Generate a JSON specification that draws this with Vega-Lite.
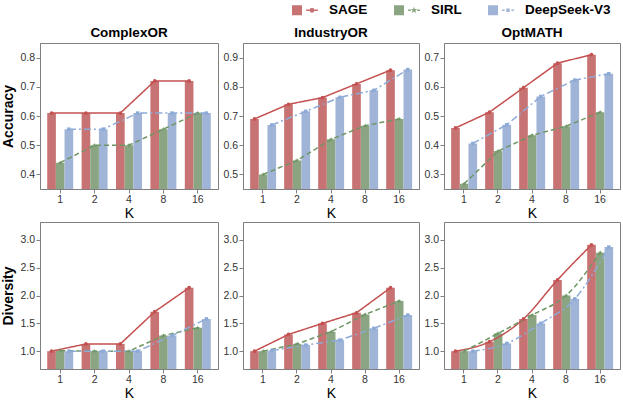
{
  "$schema": "https://vega.github.io/schema/vega-lite/v6.json",
  "padding": {"left": 1, "right": 0, "top": -3, "bottom": 3},
  "config": {
    "font": "Liberation Sans",
    "view": {"stroke": "#808080", "strokeWidth": 1},
    "axis": {"domainColor": "#808080", "tickColor": "#808080", "tickSize": 4, "labelFontSize": 10.5, "labelColor": "#333333", "titleFontSize": 14, "titleColor": "#000000", "grid": false, "labelPadding": 1.5},
    "axisX": {"labelAngle": 0, "titleFontWeight": "normal", "titlePadding": 1},
    "axisY": {"titleFontWeight": "bold", "titlePadding": 4},
    "title": {"fontSize": 13.5, "fontWeight": "bold", "color": "#000000", "offset": 4},
    "point": {"filled": true, "opacity": 1, "size": 14}
  },
  "datasets": {
    "d": [
      {"bench": "ComplexOR", "metric": "Accuracy", "K": 1, "model": "SAGE", "value": 0.61},
      {"bench": "ComplexOR", "metric": "Accuracy", "K": 2, "model": "SAGE", "value": 0.61},
      {"bench": "ComplexOR", "metric": "Accuracy", "K": 4, "model": "SAGE", "value": 0.61},
      {"bench": "ComplexOR", "metric": "Accuracy", "K": 8, "model": "SAGE", "value": 0.72},
      {"bench": "ComplexOR", "metric": "Accuracy", "K": 16, "model": "SAGE", "value": 0.72},
      {"bench": "ComplexOR", "metric": "Accuracy", "K": 1, "model": "SIRL", "value": 0.44},
      {"bench": "ComplexOR", "metric": "Accuracy", "K": 2, "model": "SIRL", "value": 0.50},
      {"bench": "ComplexOR", "metric": "Accuracy", "K": 4, "model": "SIRL", "value": 0.50},
      {"bench": "ComplexOR", "metric": "Accuracy", "K": 8, "model": "SIRL", "value": 0.555},
      {"bench": "ComplexOR", "metric": "Accuracy", "K": 16, "model": "SIRL", "value": 0.61},
      {"bench": "ComplexOR", "metric": "Accuracy", "K": 1, "model": "DeepSeek-V3", "value": 0.555},
      {"bench": "ComplexOR", "metric": "Accuracy", "K": 2, "model": "DeepSeek-V3", "value": 0.555},
      {"bench": "ComplexOR", "metric": "Accuracy", "K": 4, "model": "DeepSeek-V3", "value": 0.61},
      {"bench": "ComplexOR", "metric": "Accuracy", "K": 8, "model": "DeepSeek-V3", "value": 0.61},
      {"bench": "ComplexOR", "metric": "Accuracy", "K": 16, "model": "DeepSeek-V3", "value": 0.61},
      {"bench": "IndustryOR", "metric": "Accuracy", "K": 1, "model": "SAGE", "value": 0.69},
      {"bench": "IndustryOR", "metric": "Accuracy", "K": 2, "model": "SAGE", "value": 0.74},
      {"bench": "IndustryOR", "metric": "Accuracy", "K": 4, "model": "SAGE", "value": 0.763},
      {"bench": "IndustryOR", "metric": "Accuracy", "K": 8, "model": "SAGE", "value": 0.81},
      {"bench": "IndustryOR", "metric": "Accuracy", "K": 16, "model": "SAGE", "value": 0.857},
      {"bench": "IndustryOR", "metric": "Accuracy", "K": 1, "model": "SIRL", "value": 0.50},
      {"bench": "IndustryOR", "metric": "Accuracy", "K": 2, "model": "SIRL", "value": 0.548},
      {"bench": "IndustryOR", "metric": "Accuracy", "K": 4, "model": "SIRL", "value": 0.62},
      {"bench": "IndustryOR", "metric": "Accuracy", "K": 8, "model": "SIRL", "value": 0.667},
      {"bench": "IndustryOR", "metric": "Accuracy", "K": 16, "model": "SIRL", "value": 0.69},
      {"bench": "IndustryOR", "metric": "Accuracy", "K": 1, "model": "DeepSeek-V3", "value": 0.669},
      {"bench": "IndustryOR", "metric": "Accuracy", "K": 2, "model": "DeepSeek-V3", "value": 0.716},
      {"bench": "IndustryOR", "metric": "Accuracy", "K": 4, "model": "DeepSeek-V3", "value": 0.764},
      {"bench": "IndustryOR", "metric": "Accuracy", "K": 8, "model": "DeepSeek-V3", "value": 0.788},
      {"bench": "IndustryOR", "metric": "Accuracy", "K": 16, "model": "DeepSeek-V3", "value": 0.859},
      {"bench": "OptMATH", "metric": "Accuracy", "K": 1, "model": "SAGE", "value": 0.459},
      {"bench": "OptMATH", "metric": "Accuracy", "K": 2, "model": "SAGE", "value": 0.513},
      {"bench": "OptMATH", "metric": "Accuracy", "K": 4, "model": "SAGE", "value": 0.597},
      {"bench": "OptMATH", "metric": "Accuracy", "K": 8, "model": "SAGE", "value": 0.681},
      {"bench": "OptMATH", "metric": "Accuracy", "K": 16, "model": "SAGE", "value": 0.71},
      {"bench": "OptMATH", "metric": "Accuracy", "K": 1, "model": "SIRL", "value": 0.268},
      {"bench": "OptMATH", "metric": "Accuracy", "K": 2, "model": "SIRL", "value": 0.38},
      {"bench": "OptMATH", "metric": "Accuracy", "K": 4, "model": "SIRL", "value": 0.434},
      {"bench": "OptMATH", "metric": "Accuracy", "K": 8, "model": "SIRL", "value": 0.465},
      {"bench": "OptMATH", "metric": "Accuracy", "K": 16, "model": "SIRL", "value": 0.513},
      {"bench": "OptMATH", "metric": "Accuracy", "K": 1, "model": "DeepSeek-V3", "value": 0.406},
      {"bench": "OptMATH", "metric": "Accuracy", "K": 2, "model": "DeepSeek-V3", "value": 0.47},
      {"bench": "OptMATH", "metric": "Accuracy", "K": 4, "model": "DeepSeek-V3", "value": 0.567},
      {"bench": "OptMATH", "metric": "Accuracy", "K": 8, "model": "DeepSeek-V3", "value": 0.623},
      {"bench": "OptMATH", "metric": "Accuracy", "K": 16, "model": "DeepSeek-V3", "value": 0.645},
      {"bench": "ComplexOR", "metric": "Diversity", "K": 1, "model": "SAGE", "value": 1.0},
      {"bench": "ComplexOR", "metric": "Diversity", "K": 2, "model": "SAGE", "value": 1.13},
      {"bench": "ComplexOR", "metric": "Diversity", "K": 4, "model": "SAGE", "value": 1.13},
      {"bench": "ComplexOR", "metric": "Diversity", "K": 8, "model": "SAGE", "value": 1.71},
      {"bench": "ComplexOR", "metric": "Diversity", "K": 16, "model": "SAGE", "value": 2.14},
      {"bench": "ComplexOR", "metric": "Diversity", "K": 1, "model": "SIRL", "value": 1.01},
      {"bench": "ComplexOR", "metric": "Diversity", "K": 2, "model": "SIRL", "value": 1.0},
      {"bench": "ComplexOR", "metric": "Diversity", "K": 4, "model": "SIRL", "value": 1.0},
      {"bench": "ComplexOR", "metric": "Diversity", "K": 8, "model": "SIRL", "value": 1.28},
      {"bench": "ComplexOR", "metric": "Diversity", "K": 16, "model": "SIRL", "value": 1.42},
      {"bench": "ComplexOR", "metric": "Diversity", "K": 1, "model": "DeepSeek-V3", "value": 1.0},
      {"bench": "ComplexOR", "metric": "Diversity", "K": 2, "model": "DeepSeek-V3", "value": 1.0},
      {"bench": "ComplexOR", "metric": "Diversity", "K": 4, "model": "DeepSeek-V3", "value": 1.0},
      {"bench": "ComplexOR", "metric": "Diversity", "K": 8, "model": "DeepSeek-V3", "value": 1.28},
      {"bench": "ComplexOR", "metric": "Diversity", "K": 16, "model": "DeepSeek-V3", "value": 1.58},
      {"bench": "IndustryOR", "metric": "Diversity", "K": 1, "model": "SAGE", "value": 1.0},
      {"bench": "IndustryOR", "metric": "Diversity", "K": 2, "model": "SAGE", "value": 1.30},
      {"bench": "IndustryOR", "metric": "Diversity", "K": 4, "model": "SAGE", "value": 1.50},
      {"bench": "IndustryOR", "metric": "Diversity", "K": 8, "model": "SAGE", "value": 1.69},
      {"bench": "IndustryOR", "metric": "Diversity", "K": 16, "model": "SAGE", "value": 2.14},
      {"bench": "IndustryOR", "metric": "Diversity", "K": 1, "model": "SIRL", "value": 1.0},
      {"bench": "IndustryOR", "metric": "Diversity", "K": 2, "model": "SIRL", "value": 1.13},
      {"bench": "IndustryOR", "metric": "Diversity", "K": 4, "model": "SIRL", "value": 1.35},
      {"bench": "IndustryOR", "metric": "Diversity", "K": 8, "model": "SIRL", "value": 1.66},
      {"bench": "IndustryOR", "metric": "Diversity", "K": 16, "model": "SIRL", "value": 1.90},
      {"bench": "IndustryOR", "metric": "Diversity", "K": 1, "model": "DeepSeek-V3", "value": 1.01},
      {"bench": "IndustryOR", "metric": "Diversity", "K": 2, "model": "DeepSeek-V3", "value": 1.11},
      {"bench": "IndustryOR", "metric": "Diversity", "K": 4, "model": "DeepSeek-V3", "value": 1.20},
      {"bench": "IndustryOR", "metric": "Diversity", "K": 8, "model": "DeepSeek-V3", "value": 1.41},
      {"bench": "IndustryOR", "metric": "Diversity", "K": 16, "model": "DeepSeek-V3", "value": 1.65},
      {"bench": "OptMATH", "metric": "Diversity", "K": 1, "model": "SAGE", "value": 1.0},
      {"bench": "OptMATH", "metric": "Diversity", "K": 2, "model": "SAGE", "value": 1.17},
      {"bench": "OptMATH", "metric": "Diversity", "K": 4, "model": "SAGE", "value": 1.58},
      {"bench": "OptMATH", "metric": "Diversity", "K": 8, "model": "SAGE", "value": 2.28},
      {"bench": "OptMATH", "metric": "Diversity", "K": 16, "model": "SAGE", "value": 2.91},
      {"bench": "OptMATH", "metric": "Diversity", "K": 1, "model": "SIRL", "value": 1.0},
      {"bench": "OptMATH", "metric": "Diversity", "K": 2, "model": "SIRL", "value": 1.32},
      {"bench": "OptMATH", "metric": "Diversity", "K": 4, "model": "SIRL", "value": 1.65},
      {"bench": "OptMATH", "metric": "Diversity", "K": 8, "model": "SIRL", "value": 2.0},
      {"bench": "OptMATH", "metric": "Diversity", "K": 16, "model": "SIRL", "value": 2.77},
      {"bench": "OptMATH", "metric": "Diversity", "K": 1, "model": "DeepSeek-V3", "value": 1.0},
      {"bench": "OptMATH", "metric": "Diversity", "K": 2, "model": "DeepSeek-V3", "value": 1.14},
      {"bench": "OptMATH", "metric": "Diversity", "K": 4, "model": "DeepSeek-V3", "value": 1.50},
      {"bench": "OptMATH", "metric": "Diversity", "K": 8, "model": "DeepSeek-V3", "value": 1.94},
      {"bench": "OptMATH", "metric": "Diversity", "K": 16, "model": "DeepSeek-V3", "value": 2.87}
    ]
  },
  "spacing": 0,
  "vconcat": [
    {
      "bounds": "flush",
      "spacing": 25,
      "hconcat": [
        {
          "width": 178, "height": 146, "title": "ComplexOR",
          "data": {"name": "d"},
          "transform": [{"filter": "datum.bench=='ComplexOR' && datum.metric=='Accuracy'"}],
          "encoding": {
            "x": {"field": "K", "type": "ordinal", "scale": {"paddingInner": 0.245, "paddingOuter": 0.21}, "axis": {"title": "K"}},
            "xOffset": {"field": "model", "type": "nominal", "sort": ["SAGE", "SIRL", "DeepSeek-V3"], "scale": {"paddingInner": 0}},
            "y": {"field": "value", "type": "quantitative", "scale": {"domain": [0.35, 0.85], "zero": false, "nice": false}, "axis": {"title": "Accuracy", "values": [0.4, 0.5, 0.6, 0.7, 0.8], "format": ".1f"}}
          },
          "layer": [
            {"mark": {"type": "bar", "clip": true}, "encoding": {"color": {"field": "model", "type": "nominal", "sort": ["SAGE", "SIRL", "DeepSeek-V3"], "scale": {"domain": ["SAGE", "SIRL", "DeepSeek-V3"], "range": ["#c87373", "#8ba582", "#a0b4d7"]},
              "legend": {"orient": "none", "legendX": 252, "legendY": -46, "direction": "horizontal", "title": null, "symbolSize": 676, "symbolStrokeWidth": 0, "symbolOpacity": 1, "labelFontSize": 13.5, "labelFontWeight": "bold", "labelColor": "#000000", "labelOffset": 11, "columnPadding": 26,
                "encode": {"symbols": {"update": {"shape": {"signal": "datum.value==='SAGE' ? 'M-1,-0.38H-0.23V0.38H-1Z M0.08,-0.06H1V0.06H0.08Z M0.35,0A0.19,0.19 0 1,1 0.73,0A0.19,0.19 0 1,1 0.35,0Z' : datum.value==='SIRL' ? 'M-1,-0.38H-0.23V0.38H-1Z M0.08,-0.06H0.3V0.06H0.08Z M0.78,-0.06H1V0.06H0.78Z M0.54,-0.26L0.605,-0.089L0.787,-0.08L0.645,0.034L0.693,0.21L0.54,0.11L0.387,0.21L0.435,0.034L0.293,-0.08L0.475,-0.089Z' : 'M-1,-0.38H-0.23V0.38H-1Z M0.08,-0.06H0.28V0.06H0.08Z M0.41,-0.13H0.67V0.13H0.41Z M0.8,-0.06H1V0.06H0.8Z'"}}}}}}}},
            {"mark": {"type": "line", "strokeWidth": 1.5}, "encoding": {"stroke": {"field": "model", "type": "nominal", "scale": {"domain": ["SAGE", "SIRL", "DeepSeek-V3"], "range": ["#c45050", "#6e9664", "#8caad7"]}, "legend": null}, "strokeDash": {"field": "model", "type": "nominal", "scale": {"domain": ["SAGE", "SIRL", "DeepSeek-V3"], "range": [[1, 0], [5, 3], [7, 3, 2, 3]]}, "legend": null}}},
            {"transform": [{"filter": "datum.model=='SAGE'"}], "mark": {"type": "point", "shape": "circle", "color": "#c45050"}},
            {"transform": [{"filter": "datum.model=='SIRL'"}], "mark": {"type": "point", "size": 22, "shape": "M0,-1L0.235,-0.324L0.951,-0.309L0.38,0.124L0.588,0.809L0,0.4L-0.588,0.809L-0.38,0.124L-0.951,-0.309L-0.235,-0.324Z", "color": "#6e9664"}},
            {"transform": [{"filter": "datum.model=='DeepSeek-V3'"}], "mark": {"type": "point", "size": 12, "shape": "square", "color": "#8caad7"}}
          ]
        },
        {
          "width": 176, "height": 146, "title": "IndustryOR",
          "data": {"name": "d"},
          "transform": [{"filter": "datum.bench=='IndustryOR' && datum.metric=='Accuracy'"}],
          "encoding": {
            "x": {"field": "K", "type": "ordinal", "scale": {"paddingInner": 0.245, "paddingOuter": 0.21}, "axis": {"title": "K"}},
            "xOffset": {"field": "model", "type": "nominal", "sort": ["SAGE", "SIRL", "DeepSeek-V3"], "scale": {"paddingInner": 0}},
            "y": {"field": "value", "type": "quantitative", "scale": {"domain": [0.45, 0.95], "zero": false, "nice": false}, "axis": {"title": null, "values": [0.5, 0.6, 0.7, 0.8, 0.9], "format": ".1f"}}
          },
          "layer": [
            {"mark": {"type": "bar", "clip": true}, "encoding": {"color": {"field": "model", "type": "nominal", "sort": ["SAGE", "SIRL", "DeepSeek-V3"]}}},
            {"mark": {"type": "line", "strokeWidth": 1.5}, "encoding": {"stroke": {"field": "model", "type": "nominal", "legend": null}, "strokeDash": {"field": "model", "type": "nominal", "legend": null}}},
            {"transform": [{"filter": "datum.model=='SAGE'"}], "mark": {"type": "point", "shape": "circle", "color": "#c45050"}},
            {"transform": [{"filter": "datum.model=='SIRL'"}], "mark": {"type": "point", "size": 22, "shape": "M0,-1L0.235,-0.324L0.951,-0.309L0.38,0.124L0.588,0.809L0,0.4L-0.588,0.809L-0.38,0.124L-0.951,-0.309L-0.235,-0.324Z", "color": "#6e9664"}},
            {"transform": [{"filter": "datum.model=='DeepSeek-V3'"}], "mark": {"type": "point", "size": 12, "shape": "square", "color": "#8caad7"}}
          ]
        },
        {
          "width": 176, "height": 146, "title": "OptMATH",
          "data": {"name": "d"},
          "transform": [{"filter": "datum.bench=='OptMATH' && datum.metric=='Accuracy'"}],
          "encoding": {
            "x": {"field": "K", "type": "ordinal", "scale": {"paddingInner": 0.245, "paddingOuter": 0.21}, "axis": {"title": "K"}},
            "xOffset": {"field": "model", "type": "nominal", "sort": ["SAGE", "SIRL", "DeepSeek-V3"], "scale": {"paddingInner": 0}},
            "y": {"field": "value", "type": "quantitative", "scale": {"domain": [0.25, 0.75], "zero": false, "nice": false}, "axis": {"title": null, "values": [0.3, 0.4, 0.5, 0.6, 0.7], "format": ".1f"}}
          },
          "layer": [
            {"mark": {"type": "bar", "clip": true}, "encoding": {"color": {"field": "model", "type": "nominal", "sort": ["SAGE", "SIRL", "DeepSeek-V3"]}}},
            {"mark": {"type": "line", "strokeWidth": 1.5}, "encoding": {"stroke": {"field": "model", "type": "nominal", "legend": null}, "strokeDash": {"field": "model", "type": "nominal", "legend": null}}},
            {"transform": [{"filter": "datum.model=='SAGE'"}], "mark": {"type": "point", "shape": "circle", "color": "#c45050"}},
            {"transform": [{"filter": "datum.model=='SIRL'"}], "mark": {"type": "point", "size": 22, "shape": "M0,-1L0.235,-0.324L0.951,-0.309L0.38,0.124L0.588,0.809L0,0.4L-0.588,0.809L-0.38,0.124L-0.951,-0.309L-0.235,-0.324Z", "color": "#6e9664"}},
            {"transform": [{"filter": "datum.model=='DeepSeek-V3'"}], "mark": {"type": "point", "size": 12, "shape": "square", "color": "#8caad7"}}
          ]
        }
      ]
    },
    {
      "bounds": "flush",
      "spacing": 25,
      "hconcat": [
        {
          "width": 178, "height": 147,
          "data": {"name": "d"},
          "transform": [{"filter": "datum.bench=='ComplexOR' && datum.metric=='Diversity'"}],
          "encoding": {
            "x": {"field": "K", "type": "ordinal", "scale": {"paddingInner": 0.245, "paddingOuter": 0.21}, "axis": {"title": "K"}},
            "xOffset": {"field": "model", "type": "nominal", "sort": ["SAGE", "SIRL", "DeepSeek-V3"], "scale": {"paddingInner": 0}},
            "y": {"field": "value", "type": "quantitative", "scale": {"domain": [0.68, 3.32], "zero": false, "nice": false}, "axis": {"title": "Diversity", "values": [1, 1.5, 2, 2.5, 3], "format": ".1f"}}
          },
          "layer": [
            {"mark": {"type": "bar", "clip": true}, "encoding": {"color": {"field": "model", "type": "nominal", "sort": ["SAGE", "SIRL", "DeepSeek-V3"]}}},
            {"mark": {"type": "line", "strokeWidth": 1.5}, "encoding": {"stroke": {"field": "model", "type": "nominal", "legend": null}, "strokeDash": {"field": "model", "type": "nominal", "legend": null}}},
            {"transform": [{"filter": "datum.model=='SAGE'"}], "mark": {"type": "point", "shape": "circle", "color": "#c45050"}},
            {"transform": [{"filter": "datum.model=='SIRL'"}], "mark": {"type": "point", "size": 22, "shape": "M0,-1L0.235,-0.324L0.951,-0.309L0.38,0.124L0.588,0.809L0,0.4L-0.588,0.809L-0.38,0.124L-0.951,-0.309L-0.235,-0.324Z", "color": "#6e9664"}},
            {"transform": [{"filter": "datum.model=='DeepSeek-V3'"}], "mark": {"type": "point", "size": 12, "shape": "square", "color": "#8caad7"}}
          ]
        },
        {
          "width": 176, "height": 147,
          "data": {"name": "d"},
          "transform": [{"filter": "datum.bench=='IndustryOR' && datum.metric=='Diversity'"}],
          "encoding": {
            "x": {"field": "K", "type": "ordinal", "scale": {"paddingInner": 0.245, "paddingOuter": 0.21}, "axis": {"title": "K"}},
            "xOffset": {"field": "model", "type": "nominal", "sort": ["SAGE", "SIRL", "DeepSeek-V3"], "scale": {"paddingInner": 0}},
            "y": {"field": "value", "type": "quantitative", "scale": {"domain": [0.68, 3.32], "zero": false, "nice": false}, "axis": {"title": null, "values": [1, 1.5, 2, 2.5, 3], "format": ".1f"}}
          },
          "layer": [
            {"mark": {"type": "bar", "clip": true}, "encoding": {"color": {"field": "model", "type": "nominal", "sort": ["SAGE", "SIRL", "DeepSeek-V3"]}}},
            {"mark": {"type": "line", "strokeWidth": 1.5}, "encoding": {"stroke": {"field": "model", "type": "nominal", "legend": null}, "strokeDash": {"field": "model", "type": "nominal", "legend": null}}},
            {"transform": [{"filter": "datum.model=='SAGE'"}], "mark": {"type": "point", "shape": "circle", "color": "#c45050"}},
            {"transform": [{"filter": "datum.model=='SIRL'"}], "mark": {"type": "point", "size": 22, "shape": "M0,-1L0.235,-0.324L0.951,-0.309L0.38,0.124L0.588,0.809L0,0.4L-0.588,0.809L-0.38,0.124L-0.951,-0.309L-0.235,-0.324Z", "color": "#6e9664"}},
            {"transform": [{"filter": "datum.model=='DeepSeek-V3'"}], "mark": {"type": "point", "size": 12, "shape": "square", "color": "#8caad7"}}
          ]
        },
        {
          "width": 176, "height": 147,
          "data": {"name": "d"},
          "transform": [{"filter": "datum.bench=='OptMATH' && datum.metric=='Diversity'"}],
          "encoding": {
            "x": {"field": "K", "type": "ordinal", "scale": {"paddingInner": 0.245, "paddingOuter": 0.21}, "axis": {"title": "K"}},
            "xOffset": {"field": "model", "type": "nominal", "sort": ["SAGE", "SIRL", "DeepSeek-V3"], "scale": {"paddingInner": 0}},
            "y": {"field": "value", "type": "quantitative", "scale": {"domain": [0.68, 3.32], "zero": false, "nice": false}, "axis": {"title": null, "values": [1, 1.5, 2, 2.5, 3], "format": ".1f"}}
          },
          "layer": [
            {"mark": {"type": "bar", "clip": true}, "encoding": {"color": {"field": "model", "type": "nominal", "sort": ["SAGE", "SIRL", "DeepSeek-V3"]}}},
            {"mark": {"type": "line", "strokeWidth": 1.5, "interpolate": "monotone"}, "encoding": {"stroke": {"field": "model", "type": "nominal", "legend": null}, "strokeDash": {"field": "model", "type": "nominal", "legend": null}}},
            {"transform": [{"filter": "datum.model=='SAGE'"}], "mark": {"type": "point", "shape": "circle", "color": "#c45050"}},
            {"transform": [{"filter": "datum.model=='SIRL'"}], "mark": {"type": "point", "size": 22, "shape": "M0,-1L0.235,-0.324L0.951,-0.309L0.38,0.124L0.588,0.809L0,0.4L-0.588,0.809L-0.38,0.124L-0.951,-0.309L-0.235,-0.324Z", "color": "#6e9664"}},
            {"transform": [{"filter": "datum.model=='DeepSeek-V3'"}], "mark": {"type": "point", "size": 12, "shape": "square", "color": "#8caad7"}}
          ]
        }
      ]
    }
  ]
}
